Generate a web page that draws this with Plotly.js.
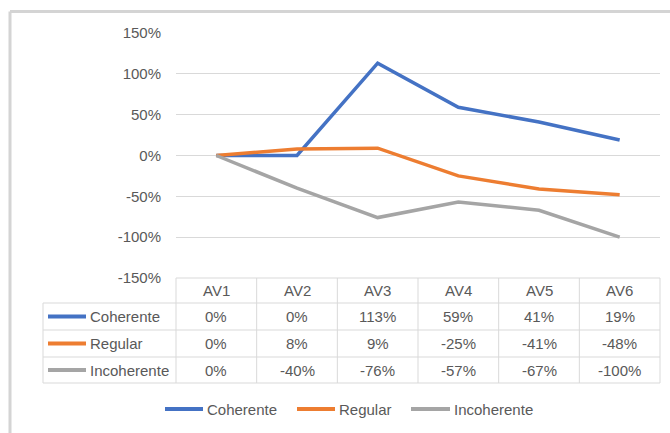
<!DOCTYPE html>
<html>
<head>
<meta charset="utf-8">
<script src="https://cdn.plot.ly/plotly-3.0.1.min.js"></script>
<style>
  html, body { margin: 0; padding: 0; background: #ffffff; }
  #chart { width: 670px; height: 433px; }
</style>
</head>
<body>
<div id="chart"></div>
<script>
// ---- Data ----
const categories = ['AV1', 'AV2', 'AV3', 'AV4', 'AV5', 'AV6'];
const seriesNames = ['Coherente', 'Regular', 'Incoherente'];
const coherente = [0, 0, 113, 59, 41, 19];
const regular = [0, 8, 9, -25, -41, -48];
const incoherente = [0, -40, -76, -57, -67, -100];
const seriesValues = [coherente, regular, incoherente];
const seriesColors = ['#4472C4', '#ED7D31', '#A5A5A5'];
const yTickValues = [150, 100, 50, 0, -50, -100, -150];
const yTickLabels = ['150%', '100%', '50%', '0%', '-50%', '-100%', '-150%'];

// ---- Layout helpers (pixel -> paper) ----
const W = 670, H = 433;
const M = { l: 176, r: 10, t: 33, b: 155 };
const PW = W - M.l - M.r, PH = H - M.t - M.b;
const px = x => (x - M.l) / PW;
const py = y => (H - M.b - y) / PH;

const FONT = 'Liberation Sans, Arial, sans-serif';
const TXT = '#595959';
const GRID = '#d9d9d9';

const traces = seriesNames.map((name, i) => ({
  type: 'scatter',
  mode: 'lines',
  name: name,
  x: categories,
  y: seriesValues[i],
  line: { color: seriesColors[i], width: 3.5 },
  showlegend: false,
  hoverinfo: 'x+y+name'
}));

const shapes = [];
const annotations = [];

// outer chart-area border (left + top)
shapes.push({ type: 'line', xref: 'paper', yref: 'paper', x0: px(10), x1: px(672), y0: py(11.5), y1: py(11.5), line: { color: '#d4d4d4', width: 3 } });
shapes.push({ type: 'line', xref: 'paper', yref: 'paper', x0: px(10), x1: px(10), y0: py(11.5), y1: py(440), line: { color: '#d4d4d4', width: 3 } });

// data table grid
const rowLines = [303, 330, 357, 383];
const tableTop = H - M.b;
const tableBottom = 383;
shapes.push({ type: 'line', xref: 'paper', yref: 'paper', x0: 0, x1: 1, y0: py(tableTop), y1: py(tableTop), line: { color: GRID, width: 1 } });
rowLines.forEach(y => shapes.push({ type: 'line', xref: 'paper', yref: 'paper', x0: px(43), x1: 1, y0: py(y), y1: py(y), line: { color: GRID, width: 1 } }));
shapes.push({ type: 'line', xref: 'paper', yref: 'paper', x0: px(43), x1: px(43), y0: py(303), y1: py(tableBottom), line: { color: GRID, width: 1 } });
for (let k = 0; k <= categories.length; k++) {
  const xp = k / categories.length;
  shapes.push({ type: 'line', xref: 'paper', yref: 'paper', x0: xp, x1: xp, y0: py(tableTop), y1: py(tableBottom), line: { color: GRID, width: 1 } });
}

// header labels
categories.forEach(c => annotations.push({
  xref: 'x', yref: 'paper', x: c, y: py(290.5), text: c, showarrow: false,
  xanchor: 'center', yanchor: 'middle', font: { family: FONT, size: 15, color: TXT }
}));

// rows
const rowCenters = [316.5, 343.5, 370];
seriesNames.forEach((name, i) => {
  const yc = py(rowCenters[i]);
  shapes.push({ type: 'line', xref: 'paper', yref: 'paper', x0: px(48), x1: px(86), y0: yc, y1: yc, line: { color: seriesColors[i], width: 4 } });
  annotations.push({ xref: 'paper', yref: 'paper', x: px(88), y: yc, text: name, showarrow: false,
    xanchor: 'left', yanchor: 'middle', font: { family: FONT, size: 15, color: TXT } });
  seriesValues[i].forEach((v, j) => annotations.push({
    xref: 'x', yref: 'paper', x: categories[j], y: yc, text: v + '%', showarrow: false,
    xanchor: 'center', yanchor: 'middle', font: { family: FONT, size: 15, color: TXT }
  }));
});

// bottom legend
const legendPos = [[165, 203, 205], [297, 335, 337], [411, 450, 452]];
seriesNames.forEach((name, i) => {
  const yc = py(409);
  shapes.push({ type: 'line', xref: 'paper', yref: 'paper', x0: px(legendPos[i][0]), x1: px(legendPos[i][1]), y0: yc, y1: yc, line: { color: seriesColors[i], width: 4 } });
  annotations.push({ xref: 'paper', yref: 'paper', x: px(legendPos[i][2]), y: yc, text: name, showarrow: false,
    xanchor: 'left', yanchor: 'middle', font: { family: FONT, size: 15, color: TXT } });
});

const layout = {
  width: W, height: H,
  margin: M,
  paper_bgcolor: '#ffffff',
  plot_bgcolor: '#ffffff',
  showlegend: false,
  xaxis: {
    type: 'category', range: [-0.5, categories.length - 0.5],
    showticklabels: false, showgrid: false, zeroline: false, showline: false, ticks: '', fixedrange: true
  },
  yaxis: {
    range: [-150, 150], tickmode: 'array', tickvals: yTickValues, ticktext: yTickLabels,
    showgrid: true, gridcolor: GRID, gridwidth: 1.2, zeroline: false, showline: false, ticks: '',
    ticklabelstandoff: 14,
    tickfont: { family: FONT, size: 15, color: TXT }, fixedrange: true
  },
  shapes: shapes,
  annotations: annotations
};

Plotly.newPlot('chart', traces, layout, { displayModeBar: false, staticPlot: true });
</script>
</body>
</html>
